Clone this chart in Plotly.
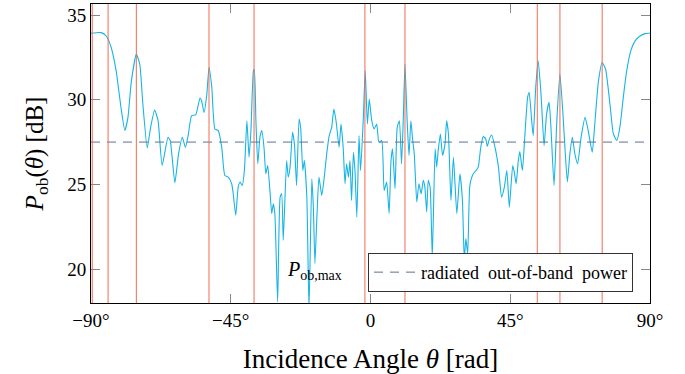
import plotly.graph_objects as go

# Incidence angle [deg] and out-of-band power [dB]
angle_deg = [
    -90.0, -86.7, -85.1, -83.5, -81.9, -80.2, -79.1, -78.1, -77.0, -75.4,
    -74.3, -73.3, -71.9, -70.8, -69.5, -68.4, -67.1, -65.2, -64.5, -63.0,
    -61.8, -60.6, -59.6, -58.7, -57.6, -56.3, -54.9, -54.4, -53.6, -52.7,
    -52.0, -51.1, -50.1, -49.0, -47.9, -46.9, -45.8, -44.7, -44.2, -43.4,
    -42.6, -42.0, -41.3, -40.6, -39.8, -39.1, -38.5, -37.7, -37.4, -36.9,
    -36.3, -35.6, -35.0, -34.3, -33.7, -33.1, -32.4, -31.8, -31.3, -30.8,
    -29.9, -29.1, -28.6, -28.1, -27.0, -26.5, -25.9, -25.1, -24.5, -23.8,
    -23.0, -22.5, -21.8, -21.3, -20.5, -19.8, -18.9, -18.4, -17.9, -17.3,
    -16.6, -15.7, -15.0, -14.1, -13.3, -12.5, -11.8, -11.1, -10.1, -9.5,
    -8.8, -8.2, -7.7, -7.1, -6.6, -6.1, -5.5, -5.0, -4.4, -3.7,
    -3.2, -2.3, -1.7, -1.0, -0.4, 0.4, 1.2, 2.0, 2.7, 3.6,
    4.4, 5.2, 6.0, 6.6, 7.1, 7.9, 8.6, 9.3, 10.0, 10.6,
    11.1, 11.8, 12.4, 13.0, 13.6, 14.1, 14.9, 15.6, 16.3, 17.0,
    17.5, 18.1, 18.6, 19.2, 19.9, 20.8, 21.3, 21.8, 22.5, 23.2,
    24.0, 24.5, 25.1, 25.9, 26.7, 27.8, 28.8, 29.6, 30.2, 30.7,
    31.3, 32.0, 33.1, 34.0, 34.7, 35.5, 36.3, 37.1, 37.6, 38.3,
    39.0, 40.1, 41.2, 42.2, 43.1, 43.9, 44.7, 45.8, 46.3, 46.9,
    47.6, 48.1, 48.9, 49.7, 50.6, 51.1, 51.9, 52.4, 53.2, 54.0,
    54.9, 55.9, 56.7, 57.5, 58.1, 59.1, 60.0, 61.0, 62.1, 62.6,
    63.4, 64.2, 65.0, 65.8, 66.7, 67.8, 69.1, 70.1, 71.4, 72.3,
    73.4, 74.6, 75.7, 77.1, 78.2, 79.3, 80.3, 81.4, 82.5, 83.8,
    85.2, 86.8, 88.4, 89.5, 90.0,
]
power_db = [
    33.92, 33.96, 33.76, 33.08, 31.70, 29.35, 28.18, 28.96, 31.10, 32.69,
    32.10, 29.75, 27.16, 28.37, 29.39, 28.76, 26.12, 27.78, 27.59, 25.10,
    26.80, 27.78, 27.19, 27.90, 29.06, 29.10, 30.10, 29.94, 29.25, 30.33,
    31.90, 30.72, 28.27, 28.18, 27.19, 25.53, 25.43, 25.04, 24.45, 23.18,
    24.84, 25.14, 24.94, 25.82, 28.76, 26.60, 28.18, 31.70, 31.80, 28.76,
    26.22, 27.78, 28.18, 27.19, 25.63, 26.12, 24.65, 23.28, 23.86, 23.28,
    18.08, 24.25, 24.45, 21.70, 26.41, 25.43, 26.02, 28.08, 27.39, 24.94,
    28.86, 28.37, 25.82, 26.41, 24.25, 17.60, 25.33, 23.66, 20.34, 22.88,
    25.43, 24.35, 25.24, 26.80, 27.88, 28.37, 29.45, 28.76, 27.19, 28.57,
    27.19, 25.04, 26.22, 25.43, 26.41, 24.06, 26.90, 25.82, 23.08, 27.88,
    25.82, 28.96, 31.70, 28.57, 30.04, 28.76, 28.27, 28.57, 27.50, 27.59,
    24.65, 25.14, 23.28, 26.41, 27.10, 24.75, 28.37, 28.76, 26.22, 29.16,
    32.10, 28.76, 26.71, 28.76, 27.59, 26.80, 23.96, 25.04, 24.45, 25.24,
    24.84, 23.37, 25.24, 24.84, 20.72, 27.10, 26.02, 27.00, 27.98, 26.71,
    27.39, 28.76, 27.98, 24.06, 26.60, 23.28, 25.63, 24.06, 20.53, 21.80,
    20.92, 24.95, 25.63, 25.82, 26.02, 27.19, 27.82, 27.69, 27.24, 27.69,
    27.92, 27.19, 26.02, 24.25, 24.84, 25.82, 23.66, 26.12, 25.73, 25.04,
    26.41, 26.94, 25.82, 27.88, 30.14, 30.43, 28.76, 27.88, 30.72, 32.29,
    30.33, 27.29, 29.16, 29.84, 28.37, 24.94, 28.76, 31.51, 28.76, 27.19,
    25.14, 26.80, 27.78, 26.80, 26.22, 27.78, 28.96, 28.18, 26.90, 28.76,
    31.10, 32.20, 31.80, 29.75, 27.98, 27.59, 28.37, 30.14, 31.70, 32.88,
    33.47, 33.76, 33.90, 33.92, 33.92,
]

# Angles of the marked peaks (red vertical lines) [deg]
peak_angles = [-89.6, -84.5, -75.4, -52.0, -37.5, -1.8, 11.1, 53.7, 61.0, 74.6]

# Radiated out-of-band power level [dB]
oob_level = 27.5
x_range = [-90, 90]
y_range = [18.0, 35.65]

x_tickvals = [-90, -45, 0, 45, 90]
x_ticktext = ["\u221290\u00b0", "\u221245\u00b0", "0", "45\u00b0", "90\u00b0"]
y_tickvals = [20, 25, 30, 35]

FONT = "Liberation Serif"

fig = go.Figure()

fig.add_trace(go.Scatter(
    x=angle_deg, y=power_db, mode="lines",
    line=dict(color="#17b4e6", width=1.1, shape="spline", smoothing=0.5),
    showlegend=False, hoverinfo="skip",
))

fig.add_trace(go.Scatter(
    x=x_range, y=[oob_level, oob_level], mode="lines",
    line=dict(color="#5d7292", width=1, dash="9px,7px"),
    name="radiated\u2002out-of-band\u2002power",
))

for a in peak_angles:
    fig.add_vline(x=a, line=dict(color="#f26a50", width=1), layer="above")

fig.add_annotation(
    x=-17.9, y=19.9, xref="x", yref="y",
    text="<i>P</i><sub>ob,max</sub>", showarrow=False,
    font=dict(family=FONT, size=20, color="black"),
)

fig.update_layout(
    width=685, height=374,
    margin=dict(l=91, r=35, t=4, b=71),
    paper_bgcolor="white", plot_bgcolor="white",
    font=dict(family=FONT, size=19, color="black"),
    showlegend=True,
    legend=dict(
        x=0.9696, y=0.037, xanchor="right", yanchor="bottom",
        bgcolor="white", bordercolor="#333", borderwidth=1,
        font=dict(family=FONT, size=18, color="black"),
        itemwidth=42, tracegroupgap=0,
    ),
    xaxis=dict(
        range=x_range, tickvals=x_tickvals, ticktext=x_ticktext,
        showline=True, linecolor="black", linewidth=1, mirror="ticks",
        ticks="inside", ticklen=9, tickcolor="#888", tickwidth=1,
        showgrid=False, zeroline=False,
        tickfont=dict(family=FONT, size=19),
        title=dict(text="Incidence Angle <i>\u03b8</i> [rad]",
                   font=dict(family=FONT, size=27), standoff=20),
    ),
    yaxis=dict(
        range=y_range, tickvals=y_tickvals,
        showline=True, linecolor="black", linewidth=1, mirror="ticks",
        ticks="inside", ticklen=9, tickcolor="#888", tickwidth=1,
        showgrid=False, zeroline=False,
        tickfont=dict(family=FONT, size=19),
        title=dict(text="<i>P</i><sub>ob</sub>(<i>\u03b8</i>) [dB]",
                   font=dict(family=FONT, size=25), standoff=16),
    ),
)

fig.write_html("out.html")
